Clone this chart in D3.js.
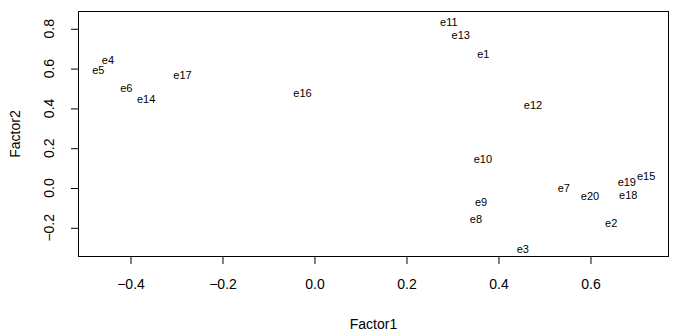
<!DOCTYPE html>
<html><head><meta charset="utf-8">
<script src="https://cdn.jsdelivr.net/npm/d3@7"></script>
<style>body{margin:0;background:#fff}svg{display:block}</style>
</head><body>
<svg id="c" width="681" height="336"></svg>
<script>
const labels = ["e1","e2","e3","e4","e5","e6","e7","e8","e9","e10","e11","e12","e13","e14","e15","e16","e17","e18","e19","e20"];
const factor1 = [0.367,0.645,0.453,-0.449,-0.470,-0.409,0.542,0.351,0.362,0.366,0.292,0.475,0.318,-0.366,0.721,-0.026,-0.287,0.682,0.679,0.599];
const factor2 = [0.673,-0.176,-0.307,0.643,0.593,0.503,0.000,-0.156,-0.070,0.146,0.834,0.417,0.769,0.447,0.060,0.475,0.565,-0.035,0.030,-0.040];
const xTicks = [-0.4,-0.2,0.0,0.2,0.4,0.6];
const yTicks = [-0.2,0.0,0.2,0.4,0.6,0.8];

const svg = d3.select("#c");
const L = 78, R = 669, T = 11, B = 257;
const x = d3.scaleLinear().domain([-0.5141, 0.7707]).range([L, R]);
const y = d3.scaleLinear().domain([-0.3467, 0.8894]).range([B, T]);
const font = "Liberation Sans, Arial, sans-serif";

svg.append("rect").attr("x", L+0.5).attr("y", T+0.5).attr("width", R-L-1).attr("height", B-T-1)
  .attr("fill","none").attr("stroke","#000").attr("stroke-width",1);

const xa = svg.append("g").attr("transform",`translate(0,${B})`)
  .call(d3.axisBottom(x).tickValues(xTicks).tickFormat(d3.format(".1f")).tickSize(7).tickPadding(15));
xa.select(".domain").remove();
xa.selectAll("text").attr("font-family",font).attr("font-size",14).attr("fill","#000");

const ya = svg.append("g").attr("transform",`translate(${L},0)`)
  .call(d3.axisLeft(y).tickValues(yTicks).tickFormat(d3.format(".1f")).tickSize(7));
ya.select(".domain").remove();
ya.selectAll("text").remove();
svg.append("g").selectAll("text").data(yTicks).join("text")
  .attr("transform", d => `translate(54,${y(d)}) rotate(-90)`)
  .attr("text-anchor","middle").attr("font-family",font).attr("font-size",14).attr("fill","#000")
  .text(d => d3.format(".1f")(d));

svg.append("text").attr("x",(L+R)/2).attr("y",329).attr("text-anchor","middle")
  .attr("font-family",font).attr("font-size",14).text("Factor1");
svg.append("text").attr("transform",`translate(20,${(T+B)/2}) rotate(-90)`).attr("text-anchor","middle")
  .attr("font-family",font).attr("font-size",14).text("Factor2");

svg.append("g").selectAll("text").data(labels).join("text")
  .attr("x",(d,i)=>x(factor1[i])).attr("y",(d,i)=>y(factor2[i])).attr("dy","0.35em")
  .attr("text-anchor","middle").attr("font-family",font).attr("font-size",11).attr("fill","#000")
  .text(d=>d);
</script>
</body></html>
